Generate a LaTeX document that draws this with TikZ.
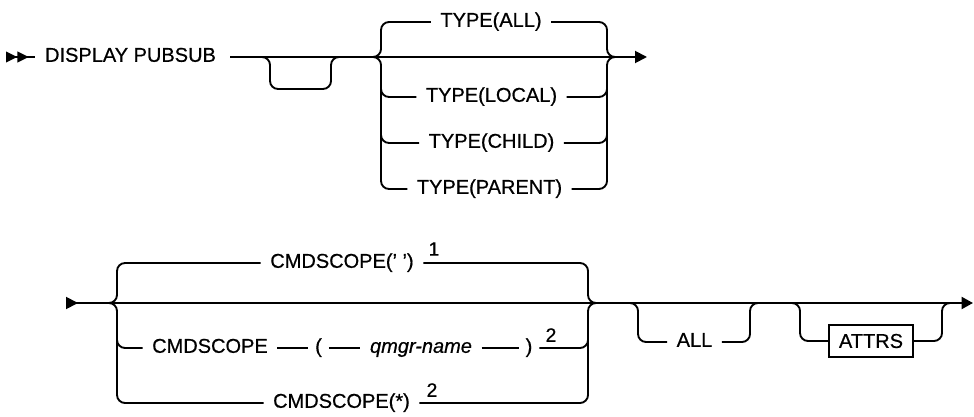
\documentclass[tikz,border=0pt]{standalone}
\usepackage{fontspec}
\setmainfont[FakeBold=0.6]{Liberation Sans}
\usepackage{tikz}
\usetikzlibrary{arrows.meta,positioning}
\tikzset{
  rail/.style={line width=1.4pt, rounded corners=6pt},
  kw/.style={inner xsep=7pt, inner ysep=0pt, text height=0.72em, text depth=0pt, font=\fontsize{15}{17}\selectfont},
  var/.style={kw, font=\fontsize{15}{17}\selectfont\itshape},
  par/.style={kw, inner xsep=5pt},
  note/.style={inner sep=0pt, font=\fontsize{14.5}{16}\selectfont},
  boxkw/.style={draw, line width=1.3pt, minimum width=63pt, minimum height=24pt, inner sep=0pt, font=\fontsize{15}{17}\selectfont},
  tipEnd/.style={-{Triangle[length=9pt,width=9pt]}},
}

\begin{document}
\begin{tikzpicture}[x=0.75pt, y=-0.75pt]
  \useasboundingbox (0,0) rectangle (974,417);
  % first row  main line y=57
  \node[kw, inner xsep=0pt] (disp) at (130.5,57) {DISPLAY PUBSUB};
  \coordinate (startA) at (6,57);
  \coordinate (leadA) at (35,57);
  \coordinate (railA) at (230,57);
  \coordinate (endA) at (647,57);
  \draw[rail, {Triangle[reversed,length=8.5pt,width=8pt]Triangle[reversed,length=8.5pt,width=8pt]}-] (startA) -- (leadA);
  \draw[rail, tipEnd] (railA) -- (endA);
  % empty optional loop
  \draw[rail] (262,57) -- (270,57) |- (331,89) -- (331,57) -- (339,57);
  % TYPE choice  left x=381  right x=607
  \coordinate (jA1) at (373,57);
  \coordinate (vA1) at (381,57);
  \coordinate (vA2) at (607,57);
  \coordinate (jA2) at (615,57);
  \node[kw] (tAll) at (491,22) {TYPE(ALL)};
  \node[kw] (tLocal) at (491.5,97) {TYPE(LOCAL)};
  \node[kw] (tChild) at (491.5,143) {TYPE(CHILD)};
  \node[kw] (tParent) at (489.5,189) {TYPE(PARENT)};
  \draw[rail] (jA1) -- (vA1) |- (tAll.west);
  \draw[rail] (tAll.east) -| (vA2) -- (jA2);
  \draw[rail] (jA1) -- (vA1) |- (tParent.west);
  \draw[rail] (tParent.east) -| (vA2) -- (jA2);
  \draw[rail] (vA1) ++(0,20) |- (tLocal.west);
  \draw[rail] (vA1) ++(0,66) |- (tChild.west);
  \draw[rail] (tLocal.east) -| (607,77);
  \draw[rail] (tChild.east) -| (607,123);

  % second row  main line y=303
  \coordinate (startB) at (66,303);
  \coordinate (endB) at (973,303);
  \draw[rail, {Triangle[reversed,length=9pt,width=9pt]}-{Triangle[length=8.5pt,width=9pt]}] (startB) -- (endB);
  % CMDSCOPE choice  left x=117  right x=588
  \coordinate (jB1) at (109,303);
  \coordinate (vB1) at (117,303);
  \coordinate (vB2) at (588,303);
  \coordinate (jB2) at (596,303);
  \node[kw] (csBlank) at (342,263) {CMDSCOPE(' ')};
  \node[note] (nOne) at (434,249) {1};
  \node[kw] (csName) at (210,348) {CMDSCOPE};
  \node[par] (lpar) at (318.5,348) {(};
  \node[var] (qmgr) at (421,348) {qmgr-name};
  \node[par] (rpar) at (529,348) {)};
  \node[note] (nTwoA) at (551,335) {2};
  \node[kw] (csStar) at (341.5,403) {CMDSCOPE(*)};
  \node[note] (nTwoB) at (432,390) {2};
  \draw[rail] (jB1) -- (vB1) |- (csBlank.west);
  \draw[rail] (csBlank.east) -| (vB2) -- (jB2);
  \draw[rail] (jB1) -- (vB1) |- (csStar.west);
  \draw[rail] (csStar.east) -| (vB2) -- (jB2);
  \draw[rail] (vB1) ++(0,20) |- (csName.west);
  \draw[rail] (csName.east) -- (lpar.west);
  \draw[rail] (lpar.east) -- (qmgr.west);
  \draw[rail] (qmgr.east) -- (rpar.west);
  \draw[rail] (rpar.east) -| (588,323);
  % ALL optional
  \node[kw] (kAll) at (694.5,342) {ALL};
  \draw[rail] (628,303) -- (638,303) |- (kAll.west);
  \draw[rail] (kAll.east) -| (750,303) -- (758,303);
  % ATTRS optional
  \node[boxkw] (kAttrs) at (871,341) {ATTRS};
  \draw[rail] (792,303) -- (800,303) |- (kAttrs.west);
  \draw[rail] (kAttrs.east) -| (942,303) -- (950,303);
\end{tikzpicture}
\end{document}
